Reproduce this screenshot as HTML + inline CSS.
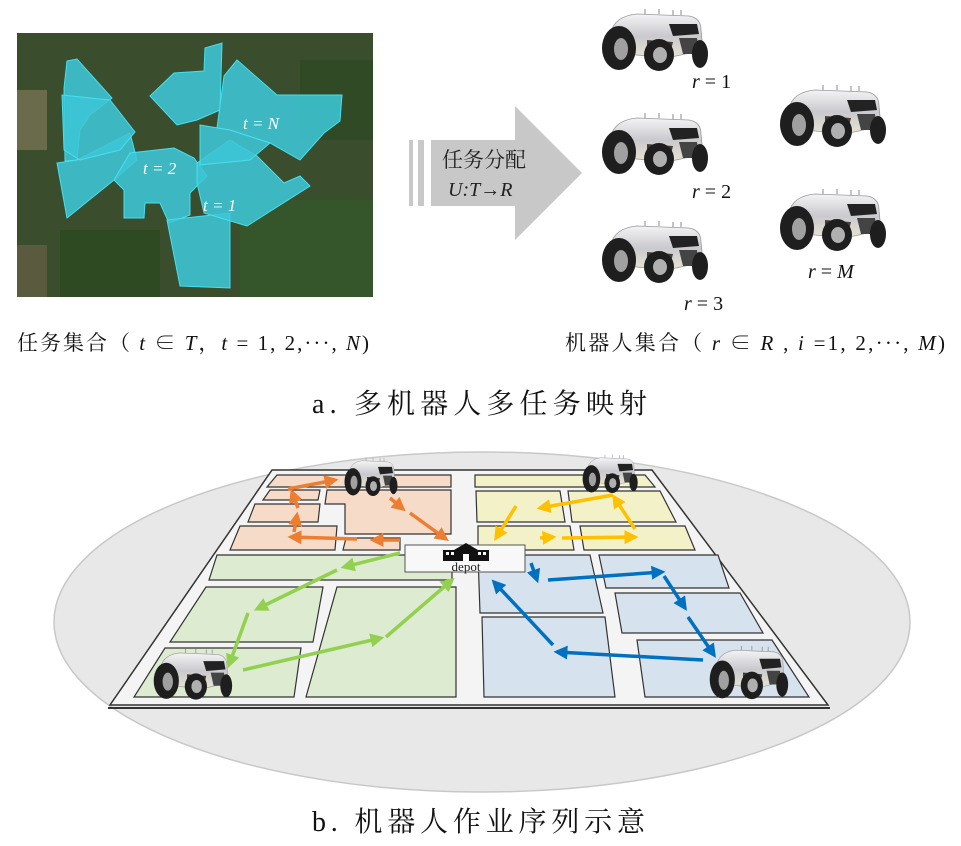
<!DOCTYPE html>
<html><head><meta charset="utf-8"><style>
html,body{margin:0;padding:0;background:#fff;}
svg{display:block;}
text{font-family:"Liberation Serif","Noto Serif CJK SC",serif;}
</style></head><body>
<svg width="961" height="846" viewBox="0 0 961 846" xmlns="http://www.w3.org/2000/svg">
<defs>
<linearGradient id="bg" x1="0" y1="0" x2="0" y2="1"><stop offset="0" stop-color="#f4f4f6"/><stop offset="0.5" stop-color="#c9c9ce"/><stop offset="1" stop-color="#e8e4d0"/></linearGradient>
<g id="robot">
 <line x1="48" y1="6" x2="48" y2="1" stroke="#888" stroke-width="1"/>
 <line x1="62" y1="6" x2="62" y2="1" stroke="#888" stroke-width="1"/>
 <line x1="76" y1="7" x2="76" y2="2" stroke="#888" stroke-width="1"/>
 <line x1="84" y1="7" x2="84" y2="2" stroke="#888" stroke-width="1"/>
 <path d="M14,24 Q18,8 40,6 L92,8 Q104,10 104,22 L106,42 L70,50 L30,46 Z" fill="url(#bg)" stroke="#999" stroke-width="0.8"/>
 <path d="M72,16 L100,16 L102,26 L76,28 Z" fill="#222"/>
 <path d="M82,30 L100,30 L102,46 L86,46 Z" fill="#444"/>
 <path d="M50,32 L76,34 L74,42 L50,40 Z" fill="#4a3c3c"/>
 <ellipse cx="22" cy="40" rx="17" ry="22" fill="#1e1e1e"/>
 <ellipse cx="24" cy="41" rx="7" ry="11" fill="#a0a0a0"/>
 <ellipse cx="62" cy="47" rx="15" ry="16" fill="#1e1e1e"/>
 <ellipse cx="63" cy="47" rx="7" ry="8" fill="#b0b0b0"/>
 <ellipse cx="103" cy="46" rx="8" ry="14" fill="#1e1e1e"/>
</g>
<marker id="mO" markerWidth="4" markerHeight="4" refX="3" refY="2" orient="auto" markerUnits="strokeWidth"><path d="M0,0 L4,2 L0,4 Z" fill="#ed7d31"/></marker>
<marker id="mY" markerWidth="4" markerHeight="4" refX="3" refY="2" orient="auto" markerUnits="strokeWidth"><path d="M0,0 L4,2 L0,4 Z" fill="#ffc000"/></marker>
<marker id="mB" markerWidth="4" markerHeight="4" refX="3" refY="2" orient="auto" markerUnits="strokeWidth"><path d="M0,0 L4,2 L0,4 Z" fill="#0070c0"/></marker>
<marker id="mG" markerWidth="4" markerHeight="4" refX="3" refY="2" orient="auto" markerUnits="strokeWidth"><path d="M0,0 L4,2 L0,4 Z" fill="#92d050"/></marker>
</defs>

<!-- map -->
<rect x="17" y="33" width="356" height="264" fill="#3a4d2c"/>
<rect x="17" y="90" width="30" height="60" fill="#8a8060" opacity="0.6"/>
<rect x="17" y="245" width="30" height="52" fill="#7a6a50" opacity="0.5"/>
<rect x="300" y="60" width="73" height="80" fill="#2f4a25"/>
<rect x="240" y="200" width="133" height="97" fill="#35562a"/>
<rect x="60" y="230" width="100" height="67" fill="#2e4a22"/>
<g fill="#3ec6d6" fill-opacity="0.88" stroke="#46e0f0" stroke-width="1">
<polygon points="67,61 77,59 112,98 90,115 80,130 77,160 65,161 64,88"/>
<polygon points="57,163 77,160 130,133 137,160 114,180 67,218"/>
<polygon points="62,95 110,100 135,132 120,150 80,160 64,150"/>
<polygon points="114,180 130,153 174,148 194,158 207,176 190,193 190,215 169,223 160,203 145,203 144,218 124,218 124,190"/>
<polygon points="167,220 230,213 230,288 180,286"/>
<polygon points="197,163 230,140 257,156 284,183 300,176 310,186 247,226 204,213 197,183"/>
<polygon points="150,96 174,73 204,71 205,48 222,43 220,110 197,120 177,125"/>
<polygon points="224,76 237,60 277,95 342,95 340,121 324,133 300,160 270,143 230,130 217,128"/>
<polygon points="200,125 230,130 270,143 250,160 200,165"/>
</g>
<g fill="#fff" font-size="17" font-style="italic">
<text x="243" y="129">t = N</text>
<text x="143" y="174">t = 2</text>
<text x="203" y="211">t = 1</text>
</g>

<!-- big arrow -->
<rect x="409" y="140" width="4" height="66" fill="#c8c8c8"/>
<rect x="418" y="140" width="6" height="66" fill="#c8c8c8"/>
<polygon points="431,140 515,140 515,106 582,173 515,240 515,206 431,206" fill="#c8c8c8"/>
<text x="442" y="167" font-size="21" fill="#222">任务分配</text>
<text x="448" y="196" font-size="20" font-style="italic" fill="#222">U:T→R</text>

<!-- robots top -->
<use href="#robot" transform="translate(597,8)"/>
<use href="#robot" transform="translate(597,112)"/>
<use href="#robot" transform="translate(597,220)"/>
<use href="#robot" transform="translate(775,84)"/>
<use href="#robot" transform="translate(775,188)"/>
<g font-size="20" fill="#111">
<text x="692" y="88"><tspan font-style="italic">r</tspan> = 1</text>
<text x="692" y="198"><tspan font-style="italic">r</tspan> = 2</text>
<text x="684" y="310"><tspan font-style="italic">r</tspan> = 3</text>
<text x="808" y="278"><tspan font-style="italic">r</tspan> = <tspan font-style="italic">M</tspan></text>
</g>
<g font-size="21" fill="#111">
<text x="17" y="350" textLength="352" lengthAdjust="spacing">任务集合（ <tspan font-style="italic">t</tspan> ∈ <tspan font-style="italic">T</tspan>，<tspan font-style="italic">t</tspan> = 1, 2,···, <tspan font-style="italic">N</tspan>)</text>
<text x="565" y="350" textLength="380" lengthAdjust="spacing">机器人集合（ <tspan font-style="italic">r</tspan> ∈ <tspan font-style="italic">R</tspan> , <tspan font-style="italic">i</tspan> =1, 2,···, <tspan font-style="italic">M</tspan>)</text>
</g>
<text x="312" y="413" font-size="28" fill="#111" textLength="335" lengthAdjust="spacing">a. 多机器人多任务映射</text>

<!-- ellipse -->
<ellipse cx="482" cy="622" rx="428" ry="170" fill="#e8e8e8" stroke="#c8c8c8" stroke-width="1.5"/>
<!-- field -->
<polygon points="272,470 652,470 828,705 110,705" fill="#f4f4f4" stroke="#333" stroke-width="1.5"/>
<line x1="108" y1="708" x2="830" y2="708" stroke="#333" stroke-width="2"/>
<g stroke="#333" stroke-width="1.2">
<g fill="#f6dcc8">
<polygon points="277,475 451,475 451,487 267,487"/>
<polygon points="270,490 320,490 318,500 263,500"/>
<polygon points="255,504 320,504 318,522 248,522"/>
<polygon points="240,526 337,526 335,550 230,550"/>
<polygon points="327,490 451,490 451,534 345,534 345,504 325,504"/>
<polygon points="346,538 400,538 400,550 343,550"/>
</g>
<g fill="#ddebd0">
<polygon points="217,555 452,555 452,580 209,580"/>
<polygon points="206,587 323,587 313,642 170,642"/>
<polygon points="337,587 456,587 456,697 306,697"/>
<polygon points="165,648 301,648 294,697 134,697"/>
</g>
<g fill="#d6e2ee">
<polygon points="478,555 590,555 603,613 480,613"/>
<polygon points="599,555 718,555 729,588 606,588"/>
<polygon points="615,593 740,593 763,633 622,633"/>
<polygon points="637,640 772,640 809,697 645,697"/>
<polygon points="482,617 605,617 615,697 484,697"/>
</g>
<g fill="#f3f1c8">
<polygon points="475,475 645,475 655,487 475,487"/>
<polygon points="476,491 560,491 565,522 477,522"/>
<polygon points="568,491 660,491 676,522 572,522"/>
<polygon points="478,526 570,526 574,550 478,550"/>
<polygon points="580,526 685,526 695,550 584,550"/>
</g>
</g>
<!-- depot -->
<rect x="405" y="545" width="120" height="27" fill="#f8f8f8" stroke="#555" stroke-width="1"/>
<g fill="#111">
<polygon points="454,550 466,543 478,550"/>
<rect x="443" y="550" width="46" height="11"/>
<rect x="446" y="552" width="3" height="3" fill="#fff"/><rect x="451" y="552" width="3" height="3" fill="#fff"/>
<rect x="478" y="552" width="3" height="3" fill="#fff"/><rect x="483" y="552" width="3" height="3" fill="#fff"/>
<rect x="463" y="554" width="6" height="7" fill="#fff"/>
</g>
<text x="466" y="571" font-size="13" text-anchor="middle" fill="#222" font-family="Liberation Sans, sans-serif">depot</text>

<!-- arrows -->
<g stroke-width="3.5" fill="none">
<g stroke="#ed7d31">
<line x1="390" y1="498" x2="403" y2="509" marker-end="url(#mO)"/>
<line x1="410" y1="513" x2="446" y2="539" marker-end="url(#mO)"/>
<line x1="400" y1="540" x2="373" y2="540" marker-end="url(#mO)"/>
<line x1="357" y1="539" x2="291" y2="537" marker-end="url(#mO)"/>
<line x1="294" y1="532" x2="297" y2="515" marker-end="url(#mO)"/>
<line x1="298" y1="508" x2="292" y2="492" marker-end="url(#mO)"/>
<line x1="288" y1="489" x2="335" y2="480" marker-end="url(#mO)"/>
</g>
<g stroke="#ffc000">
<line x1="613" y1="495" x2="540" y2="508" marker-end="url(#mY)"/>
<line x1="516" y1="506" x2="496" y2="538" marker-end="url(#mY)"/>
<line x1="540" y1="538" x2="553" y2="537" marker-end="url(#mY)"/>
<line x1="562" y1="538" x2="635" y2="537" marker-end="url(#mY)"/>
<line x1="635" y1="529" x2="614" y2="497" marker-end="url(#mY)"/>
</g>
<g stroke="#0070c0">
<line x1="531" y1="563" x2="537" y2="580" marker-end="url(#mB)"/>
<line x1="548" y1="580" x2="662" y2="572" marker-end="url(#mB)"/>
<line x1="664" y1="576" x2="685" y2="608" marker-end="url(#mB)"/>
<line x1="688" y1="617" x2="714" y2="655" marker-end="url(#mB)"/>
<line x1="703" y1="660" x2="557" y2="652" marker-end="url(#mB)"/>
<line x1="553" y1="645" x2="494" y2="582" marker-end="url(#mB)"/>
</g>
<g stroke="#92d050">
<line x1="400" y1="553" x2="344" y2="567" marker-end="url(#mG)"/>
<line x1="337" y1="570" x2="257" y2="609" marker-end="url(#mG)"/>
<line x1="248" y1="613" x2="229" y2="665" marker-end="url(#mG)"/>
<line x1="243" y1="670" x2="381" y2="638" marker-end="url(#mG)"/>
<line x1="386" y1="637" x2="452" y2="580" marker-end="url(#mG)"/>
</g>
</g>
<!-- field robots -->
<use href="#robot" transform="translate(342,457) scale(0.5,0.62)"/>
<use href="#robot" transform="translate(580,454) scale(0.52,0.62)"/>
<use href="#robot" transform="translate(150,648) scale(0.74,0.82)"/>
<use href="#robot" transform="translate(706,645) scale(0.74,0.86)"/>

<text x="312" y="831" font-size="28" fill="#111" textLength="333" lengthAdjust="spacing">b. 机器人作业序列示意</text>
</svg>
</body></html>
